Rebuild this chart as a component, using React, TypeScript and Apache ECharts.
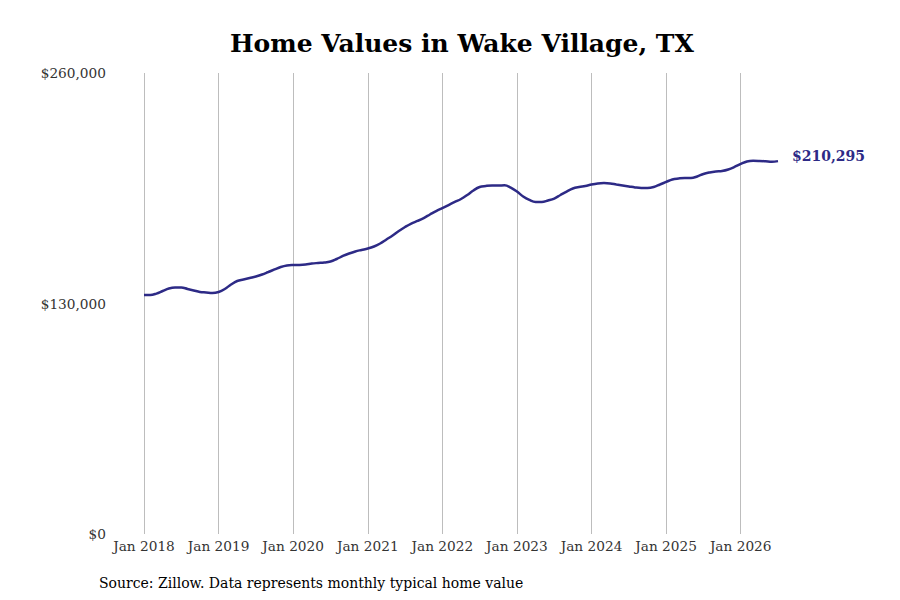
import { useEffect, useRef } from "react";
import * as echarts from "echarts";

const years = [2018, 2019, 2020, 2021, 2022, 2023, 2024, 2025, 2026];
const monthNames = ["Jan", "Feb", "Mar", "Apr", "May", "Jun", "Jul", "Aug", "Sep", "Oct", "Nov", "Dec"];

// monthly typical home value, Jan 2018 .. Jul 2026
const values2018 = [134800, 134800, 135600, 137050, 138450, 139000, 139000, 138200, 137350, 136500, 136200, 135900];
const values2019 = [136500, 138200, 140700, 142700, 143550, 144400, 145250, 146350, 147750, 149200, 150600, 151450];
const values2020 = [151700, 151750, 152000, 152550, 152850, 153100, 153700, 155100, 156800, 158200, 159350, 160200];
const values2021 = [161000, 162150, 163850, 166100, 168350, 170900, 173150, 175100, 176550, 178200, 180200, 182150];
const values2022 = [183850, 185550, 187250, 188950, 191200, 193750, 195700, 196300, 196600, 196500, 196700, 195400];
const values2023 = [193150, 190350, 188400, 187250, 187250, 188100, 189200, 191200, 193150, 194850, 195700, 196250];
const values2024 = [197100, 197700, 197950, 197700, 197100, 196550, 196000, 195450, 195150, 195150, 195700, 197100];
const values2025 = [198550, 199950, 200500, 200800, 200800, 201650, 203050, 203900, 204450, 204750, 205600, 207000];
const values2026 = [208700, 210100, 210500, 210400, 210200, 209950, 210295];

const yTicks = [0, 130000, 260000];

const months: string[] = [];
years.forEach((y) => {
  monthNames.forEach((m) => months.push(`${m} ${y}`));
});

const values = [
  ...values2018,
  ...values2019,
  ...values2020,
  ...values2021,
  ...values2022,
  ...values2023,
  ...values2024,
  ...values2025,
  ...values2026,
];
const categories = months.slice(0, values.length);

const LINE = "#2d2a86";
const SERIF = "'DejaVu Serif', serif";

const App = () => {
  const chartRef = useRef<HTMLDivElement>(null);

  useEffect(() => {
    if (!chartRef.current) return;
    const chart = echarts.init(chartRef.current, null, { renderer: "svg" });

    const isJan = (i: number) => i % 12 === 0;

    chart.setOption({
      animation: false,
      textStyle: { fontFamily: SERIF },
      title: {
        text: "Home Values in Wake Village, TX",
        left: 225,
        top: 26,
        textStyle: { fontFamily: SERIF, fontSize: 25, fontWeight: "bold", color: "#000" },
      },
      grid: { left: 144, right: 122, top: 73, bottom: 66, containLabel: false },
      xAxis: {
        type: "category",
        data: categories,
        boundaryGap: false,
        axisLine: { show: false },
        axisTick: { show: false },
        axisLabel: {
          interval: (i: number) => isJan(i),
          margin: 5,
          fontFamily: SERIF,
          fontSize: 13.7,
          color: "#333",
        },
        splitLine: {
          show: true,
          interval: (i: number) => isJan(i),
          lineStyle: { color: "#bdbdbd", width: 1 },
        },
      },
      yAxis: {
        type: "value",
        min: yTicks[0],
        max: yTicks[yTicks.length - 1],
        interval: yTicks[1] - yTicks[0],
        axisLine: { show: false },
        axisTick: { show: false },
        splitLine: { show: false },
        axisLabel: {
          margin: 38,
          fontFamily: SERIF,
          fontSize: 13.7,
          color: "#333",
          formatter: (v: number) => "$" + v.toLocaleString("en-US"),
        },
      },
      series: [
        {
          type: "line",
          data: values,
          showSymbol: false,
          smooth: 0.4,
          lineStyle: { color: LINE, width: 2.5 },
          itemStyle: { color: LINE },
          endLabel: {
            show: true,
            distance: 14,
            offset: [0, -5],
            formatter: (p: { value: number }) => "$" + p.value.toLocaleString("en-US"),
            fontFamily: SERIF,
            fontSize: 14,
            fontWeight: "bold",
            color: LINE,
          },
        },
      ],
      graphic: [
        {
          type: "text",
          left: 99,
          top: 576,
          style: {
            text: "Source: Zillow. Data represents monthly typical home value",
            font: `14px ${SERIF}`,
            fill: "#000",
          },
        },
      ],
    });

    return () => chart.dispose();
  }, []);

  return (
    <div
      ref={chartRef}
      style={{ position: "fixed", left: 0, top: 0, width: 900, height: 600, background: "#fff" }}
    />
  );
};

export default App;
